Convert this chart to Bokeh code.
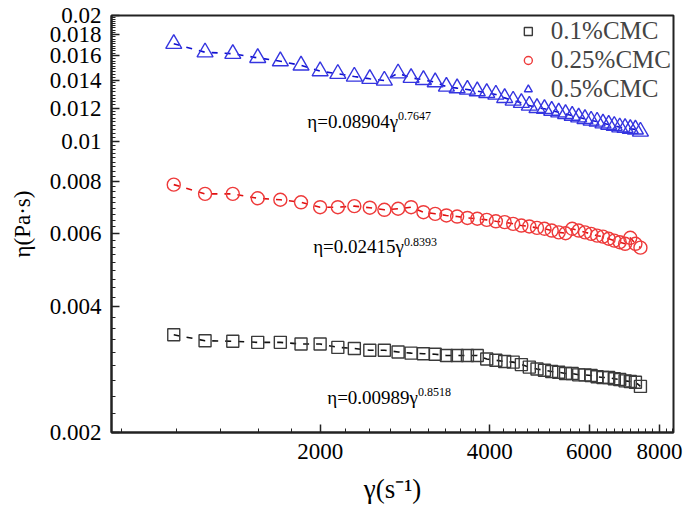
from bokeh.plotting import figure
from bokeh.models import FixedTicker, Label, Legend, LegendItem
from bokeh.embed import file_html
from bokeh.resources import INLINE

# ---------------- data ----------------
shear_rate = [1100, 1250, 1400, 1550, 1700, 1850, 2000, 2150, 2300, 2450,
              2600, 2750, 2900, 3050, 3200, 3350, 3500, 3650, 3800, 3950,
              4100, 4250, 4400, 4550, 4700, 4850, 5000, 5150, 5300, 5450,
              5600, 5750, 5900, 6050, 6200, 6350, 6500, 6650, 6800, 6950,
              7100, 7250, 7400]

eta_01 = [0.00343, 0.00332, 0.00331, 0.00329, 0.00329, 0.00326, 0.00326, 0.00320, 0.00318, 0.00315,
          0.00315, 0.00312, 0.00310, 0.00309, 0.00308, 0.00306, 0.00306, 0.00306, 0.00306, 0.00300,
          0.00298, 0.00296, 0.00295, 0.00291, 0.00287, 0.00284, 0.00282, 0.00280, 0.00279, 0.00277,
          0.00277, 0.00275, 0.00275, 0.00274, 0.00272, 0.00271, 0.00271, 0.00269, 0.00268, 0.00266,
          0.00265, 0.00264, 0.00258]

eta_025 = [0.00786, 0.00747, 0.00747, 0.00729, 0.00723, 0.00713, 0.00694, 0.00694, 0.00698, 0.00692,
           0.00684, 0.00688, 0.00694, 0.00675, 0.00669, 0.00663, 0.00659, 0.00654, 0.00651, 0.00647,
           0.00642, 0.00639, 0.00633, 0.00627, 0.00624, 0.00619, 0.00616, 0.00610, 0.00604, 0.00601,
           0.00616, 0.00610, 0.00604, 0.00599, 0.00593, 0.00590, 0.00583, 0.00577, 0.00572, 0.00567,
           0.00586, 0.00567, 0.00555]

eta_05 = [0.01711, 0.01633, 0.01619, 0.01583, 0.01554, 0.01518, 0.01471, 0.01450, 0.01428, 0.01410,
          0.01397, 0.01454, 0.01418, 0.01402, 0.01384, 0.01351, 0.01339, 0.01329, 0.01317, 0.01305,
          0.01293, 0.01269, 0.01251, 0.01235, 0.01217, 0.01201, 0.01195, 0.01183, 0.01172, 0.01162,
          0.01151, 0.01140, 0.01130, 0.01120, 0.01114, 0.01103, 0.01095, 0.01088, 0.01079, 0.01076,
          0.01070, 0.01066, 0.01054]

series_names = ["0.1%CMC", "0.25%CMC", "0.5%CMC"]
fit_main = ["η=0.00989γ", "η=0.02415γ", "η=0.08904γ"]
fit_exp = ["0.8518", "0.8393", "0.7647"]

x_ticks = [2000, 4000, 6000, 8000]
x_tick_labels = ["2000", "4000", "6000", "8000"]
y_ticks = [0.002, 0.004, 0.006, 0.008, 0.01, 0.012, 0.014, 0.016, 0.018, 0.02]
y_tick_labels = ["0.002", "0.004", "0.006", "0.008", "0.01", "0.012", "0.014", "0.016", "0.018", "0.02"]

# ---------------- figure ----------------
FONT = "Liberation Serif"

p = figure(width=683, height=513, x_axis_type="log", y_axis_type="log",
           x_range=(853, 8470), y_range=(0.002, 0.02),
           output_backend="svg", toolbar_location=None,
           min_border_left=111, min_border_right=10, min_border_top=15, min_border_bottom=81)

p.xgrid.visible = False
p.ygrid.visible = False
p.outline_line_color = "#222222"
p.outline_line_width = 2
p.background_fill_color = "white"
p.border_fill_color = "white"

x_minor = [2000.0 / 9 * k for k in range(4, 39)]
y_minor = [0.002 / 9 * k for k in range(9, 91)]
p.xaxis.ticker = FixedTicker(ticks=x_ticks, minor_ticks=x_minor)
p.yaxis.ticker = FixedTicker(ticks=y_ticks, minor_ticks=y_minor)
p.xaxis.major_label_overrides = dict(zip(x_ticks, x_tick_labels))
p.yaxis.major_label_overrides = dict(zip(y_ticks, y_tick_labels))

for ax in (p.xaxis[0], p.yaxis[0]):
    ax.axis_line_color = "#222222"
    ax.axis_line_width = 2
    ax.major_tick_line_color = "#222222"
    ax.minor_tick_line_color = "#222222"
    ax.major_tick_line_width = 1.5
    ax.minor_tick_line_width = 1
    ax.major_tick_in = 8
    ax.major_tick_out = 0
    ax.minor_tick_in = 4
    ax.minor_tick_out = 0
    ax.major_label_text_font = FONT
    ax.major_label_text_font_size = "23px"
    ax.major_label_text_color = "black"
    ax.axis_label_text_font = FONT
    ax.axis_label_text_font_style = "normal"
    ax.axis_label_text_color = "black"

p.xaxis.major_label_standoff = 11
p.xaxis.axis_label_standoff = 12
p.xaxis.axis_label_text_font_size = "27px"
p.yaxis.major_label_standoff = 10
p.yaxis.axis_label_standoff = 12
p.yaxis.axis_label_text_font_size = "23px"

p.xaxis.axis_label = "γ(s⁻¹)"
p.yaxis.axis_label = "η(Pa·s)"

# ---------------- glyphs ----------------
colors_line = ["#111111", "#e01010", "#1010d0"]
colors_mark = ["#3a3a3a", "#ee3a3a", "#3535e0"]
markers = ["square", "circle", "triangle"]
sizes = [12, 13, 16]
data = [eta_01, eta_025, eta_05]

renderers = []
for yv, lc, mc, mk, sz in zip(data, colors_line, colors_mark, markers, sizes):
    p.line(shear_rate, yv, line_color=lc, line_width=1.6, line_dash="6 7")
    r = p.scatter(shear_rate, yv, marker=mk, size=sz, fill_alpha=0,
                  line_color=mc, line_width=1.4)
    renderers.append(r)

legend = Legend(items=[LegendItem(label=n, renderers=[r]) for n, r in zip(series_names, renderers)],
                location="top_right", border_line_alpha=0, background_fill_alpha=0,
                label_text_font=FONT, label_text_font_size="25px",
                glyph_width=20, glyph_height=20, label_standoff=13,
                label_height=20, spacing=1, padding=2, margin=0)
p.add_layout(legend)

# ---------------- fit annotations ----------------
anchors = [(2983, 0.002427), (2817, 0.00558), (2750, 0.01114)]
for (ax_, ay_), main, ex in zip(anchors, fit_main, fit_exp):
    p.add_layout(Label(x=ax_, y=ay_, text=main, text_align="right", text_baseline="middle",
                       text_font=FONT, text_font_size="19px", text_color="black"))
    p.add_layout(Label(x=ax_, y=ay_, text=ex, text_align="left", text_baseline="middle",
                       y_offset=5, text_font=FONT, text_font_size="12px", text_color="black"))

open("out.html", "w").write(file_html(p, INLINE))
